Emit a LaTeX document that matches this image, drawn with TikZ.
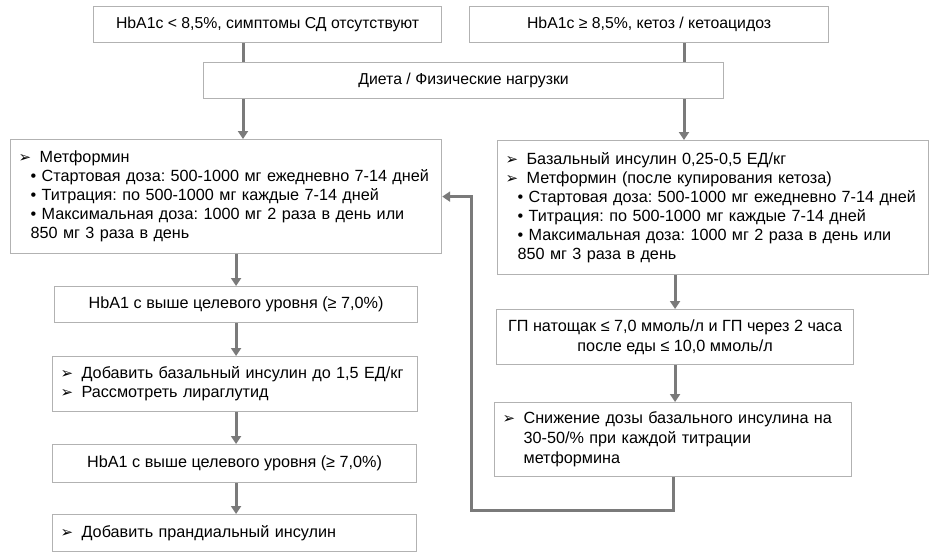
\documentclass[tikz,border=0pt]{standalone}
\usepackage{fontspec}
\setmainfont{Liberation Sans}
\newfontfamily\dejavu{DejaVu Sans}
\usetikzlibrary{arrows.meta}
\frenchspacing
\newcommand\boxfont{\fontsize{16.2}{19}\selectfont}
\newcommand\topfont{\fontsize{15.8}{19}\selectfont}
\newcommand\arrbul{\makebox[21pt][l]{\dejavu\fontsize{15}{15}\selectfont ➢}}
\newcommand\subin{\hspace*{12pt}}
\newcommand\subbul{\subin• }
\tikzset{
  >={Triangle[width=10pt,length=8pt]},
  box/.style={draw=black!30, line width=1.2pt, fill=white, font=\boxfont, anchor=north west,
              inner xsep=8pt, inner ysep=0pt},
  cbox/.style={box, align=center, minimum width=#1},
  lbox/.style={box, align=left, text width=#1},
  link/.style={line width=3pt, draw=black!52},
  flow/.style={link, ->}
}
\begin{document}
\begin{tikzpicture}[x=1pt,y=-1pt]
\useasboundingbox (0,0) rectangle (933,558);
\coordinate (lx) at (243,0);
\coordinate (rx) at (684,0);
\node[cbox=348pt, minimum height=36pt, font=\topfont] (top1) at (93,6) {HbA1c < 8,5\%, симптомы СД отсутствуют};
\node[cbox=359pt, minimum height=36pt, font=\topfont] (top2) at (469,6) {HbA1c ≥ 8,5\%, кетоз / кетоацидоз};
\node[cbox=520pt, minimum height=36pt, font=\topfont] (diet) at (203,62) {Диета / Физические нагрузки};
\node[lbox=415pt, minimum height=114pt] (met) at (10,139) {\arrbul Метформин\\
  \subbul Стартовая доза: 500-1000 мг ежедневно 7-14 дней\\
  \subbul Титрация: по 500-1000 мг каждые 7-14 дней\\
  \subbul Максимальная доза: 1000 мг 2 раза в день или\\
  \subin 850 мг 3 раза в день};
\node[lbox=415pt, minimum height=134pt] (ins) at (497,140) {\arrbul Базальный инсулин 0,25-0,5 ЕД/кг\\
  \arrbul Метформин (после купирования кетоза)\\
  \subbul Стартовая доза: 500-1000 мг ежедневно 7-14 дней\\
  \subbul Титрация: по 500-1000 мг каждые 7-14 дней\\
  \subbul Максимальная доза: 1000 мг 2 раза в день или\\
  \subin 850 мг 3 раза в день};
\node[cbox=363pt, minimum height=36pt] (hb1) at (54,286) {HbA1 с выше целевого уровня (≥ 7,0\%)};
\node[lbox=349pt, minimum height=55pt] (add) at (52,356) {\arrbul Добавить базальный инсулин до 1,5 ЕД/кг\\
  \arrbul Рассмотреть лираглутид};
\node[cbox=364pt, minimum height=38pt] (hb2) at (52,444) {HbA1 с выше целевого уровня (≥ 7,0\%)};
\node[lbox=348pt, minimum height=37pt] (pran) at (52,514) {\arrbul Добавить прандиальный инсулин};
\node[cbox=357pt, minimum height=55pt, font=\fontsize{16.2}{20}\selectfont] (gp) at (496,309) {ГП натощак ≤ 7,0 ммоль/л и ГП через 2 часа\\
  после еды ≤ 10,0 ммоль/л};
\node[lbox=341pt, minimum height=74pt, font=\fontsize{16.2}{20}\selectfont] (cut) at (494,402) {\arrbul Снижение дозы базального инсулина на\\
  \hspace*{21pt}30-50/\% при каждой титрации\\
  \hspace*{21pt}метформина};
\draw[link] (top1.south -| lx) -- (diet.north -| lx);
\draw[link] (top2.south -| rx) -- (diet.north -| rx);
\draw[flow] (diet.south -| lx) -- (met.north -| lx);
\draw[flow] (diet.south -| rx) -- (ins.north -| rx);
\draw[flow] (met.south -| hb1.north) -- (hb1.north);
\draw[flow] (hb1.south) -- (hb1.south |- add.north);
\draw[flow] (add.south -| hb1.south) -- (hb1.south |- hb2.north);
\draw[flow] (hb2.south -| hb1.south) -- (hb1.south |- pran.north);
\draw[flow] (ins.south -| gp.north) -- (gp.north);
\draw[flow] (gp.south) -- (gp.south |- cut.north);
\coordinate (fb) at (471,510);
\draw[flow] (cut.south) |- (fb) |- (met.east);
\end{tikzpicture}
\end{document}
